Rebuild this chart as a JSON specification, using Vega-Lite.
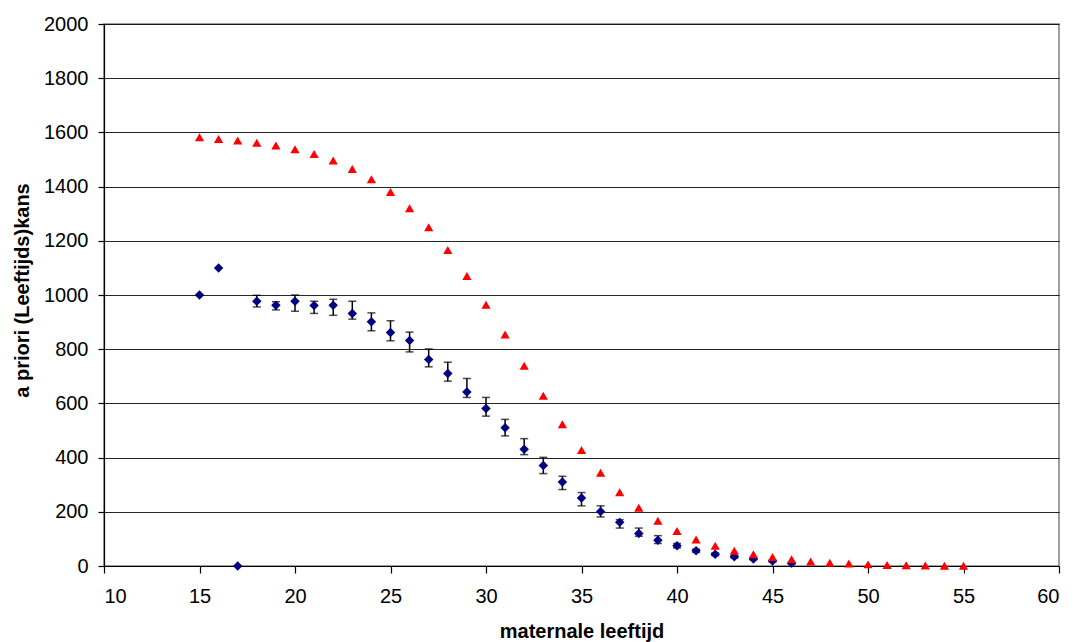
{
  "$schema": "https://vega.github.io/schema/vega-lite/v6.json",
  "width": 955,
  "height": 542,
  "autosize": {"type": "none"},
  "padding": {"left": 104, "top": 24, "right": 14, "bottom": 76},
  "background": "white",
  "config": {
    "font": "Liberation Sans",
    "view": {"stroke": "#808080", "strokeWidth": 1.5},
    "axis": {
      "labelFont": "Liberation Sans",
      "titleFont": "Liberation Sans",
      "labelFontSize": 20,
      "titleFontSize": 20,
      "labelColor": "#000",
      "titleColor": "#000",
      "titleFontWeight": "bold",
      "domainColor": "#000",
      "tickColor": "#000",
      "domainWidth": 1.2,
      "tickWidth": 1.2
    }
  },
  "data": {
    "values": [
      {"age": 15, "risk": 1582, "obs": 1000},
      {"age": 16, "risk": 1576, "obs": 1100},
      {"age": 17, "risk": 1570, "obs": 0},
      {"age": 18, "risk": 1562, "obs": 977, "lo": 956, "hi": 999},
      {"age": 19, "risk": 1552, "obs": 962, "lo": 945, "hi": 975},
      {"age": 20, "risk": 1538, "obs": 977, "lo": 940, "hi": 1000},
      {"age": 21, "risk": 1520, "obs": 961, "lo": 932, "hi": 977},
      {"age": 22, "risk": 1496, "obs": 962, "lo": 925, "hi": 984},
      {"age": 23, "risk": 1465, "obs": 932, "lo": 911, "hi": 977},
      {"age": 24, "risk": 1427, "obs": 901, "lo": 868, "hi": 934},
      {"age": 25, "risk": 1380, "obs": 862, "lo": 831, "hi": 905},
      {"age": 26, "risk": 1320, "obs": 832, "lo": 790, "hi": 863},
      {"age": 27, "risk": 1250, "obs": 762, "lo": 735, "hi": 801},
      {"age": 28, "risk": 1166, "obs": 710, "lo": 682, "hi": 752},
      {"age": 29, "risk": 1070, "obs": 642, "lo": 622, "hi": 692},
      {"age": 30, "risk": 964, "obs": 581, "lo": 553, "hi": 622},
      {"age": 31, "risk": 854, "obs": 510, "lo": 480, "hi": 541},
      {"age": 32, "risk": 739, "obs": 431, "lo": 411, "hi": 470},
      {"age": 33, "risk": 628, "obs": 371, "lo": 341, "hi": 401},
      {"age": 34, "risk": 523, "obs": 310, "lo": 282, "hi": 331},
      {"age": 35, "risk": 428, "obs": 251, "lo": 222, "hi": 271},
      {"age": 36, "risk": 344, "obs": 201, "lo": 181, "hi": 222},
      {"age": 37, "risk": 272, "obs": 161, "lo": 140, "hi": 171},
      {"age": 38, "risk": 215, "obs": 120, "lo": 110, "hi": 140},
      {"age": 39, "risk": 167, "obs": 95, "lo": 83, "hi": 112},
      {"age": 40, "risk": 129, "obs": 75, "lo": 67, "hi": 83},
      {"age": 41, "risk": 98, "obs": 56, "lo": 50, "hi": 62},
      {"age": 42, "risk": 75, "obs": 43, "lo": 38, "hi": 48},
      {"age": 43, "risk": 56, "obs": 34, "lo": 30, "hi": 38},
      {"age": 44, "risk": 43, "obs": 26, "lo": 23, "hi": 29},
      {"age": 45, "risk": 33, "obs": 18, "lo": 15, "hi": 21},
      {"age": 46, "risk": 25, "obs": 10, "lo": 8, "hi": 12},
      {"age": 47, "risk": 17},
      {"age": 48, "risk": 12},
      {"age": 49, "risk": 9},
      {"age": 50, "risk": 6},
      {"age": 51, "risk": 4},
      {"age": 52, "risk": 3},
      {"age": 53, "risk": 2},
      {"age": 54, "risk": 1},
      {"age": 55, "risk": 1}
    ]
  },
  "encoding": {
    "x": {
      "field": "age",
      "type": "quantitative",
      "scale": {"domain": [10, 60], "nice": false, "zero": false},
      "axis": {
        "title": "maternale leeftijd",
        "values": [10, 15, 20, 25, 30, 35, 40, 45, 50, 55, 60],
        "grid": false,
        "tickSize": 7,
        "labelPadding": 13,
        "titleY": 71,
        "titleBaseline": "alphabetic"
      }
    }
  },
  "layer": [
    {
      "mark": {"type": "rule", "color": "#000", "strokeWidth": 1.5},
      "encoding": {
        "y": {
          "field": "lo",
          "type": "quantitative",
          "scale": {"domain": [0, 2000], "nice": false},
          "axis": {
            "title": "a priori (Leeftijds)kans",
            "format": "d",
            "values": [0, 200, 400, 600, 800, 1000, 1200, 1400, 1600, 1800, 2000],
            "grid": true,
            "gridColor": "#000",
            "gridWidth": 1,
            "gridOpacity": 0.85,
            "tickSize": 6,
            "labelPadding": 10,
            "titleX": -76,
            "titleY": 266,
            "titleBaseline": "alphabetic"
          }
        },
        "y2": {"field": "hi"}
      }
    },
    {
      "mark": {"type": "tick", "orient": "horizontal", "color": "#000", "size": 8, "thickness": 1.5},
      "encoding": {"y": {"field": "lo", "type": "quantitative"}}
    },
    {
      "mark": {"type": "tick", "orient": "horizontal", "color": "#000", "size": 8, "thickness": 1.5},
      "encoding": {"y": {"field": "hi", "type": "quantitative"}}
    },
    {
      "mark": {"type": "point", "shape": "diamond", "filled": true, "color": "#000080", "opacity": 1, "size": 90},
      "encoding": {"y": {"field": "obs", "type": "quantitative"}}
    },
    {
      "mark": {"type": "point", "shape": "triangle-up", "filled": true, "color": "#FF0000", "opacity": 1, "size": 85},
      "encoding": {"y": {"field": "risk", "type": "quantitative"}}
    }
  ]
}
